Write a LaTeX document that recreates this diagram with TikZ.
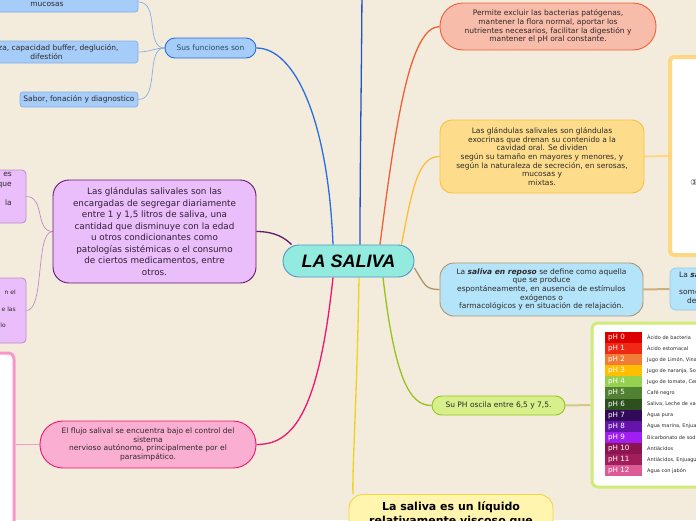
\documentclass[tikz,border=0pt]{standalone}
\usepackage{fontspec}
\setmainfont{DejaVu Sans}
\newfontfamily\titlefont{Liberation Sans}
\usetikzlibrary{backgrounds}
\definecolor{paper}{RGB}{243,236,220}
\definecolor{inkgrey}{RGB}{45,40,40}
\definecolor{centrefill}{RGB}{147,234,222}
\definecolor{centredraw}{RGB}{80,150,200}
\definecolor{funcfill}{RGB}{166,204,250}
\definecolor{funcdraw}{RGB}{40,110,220}
\definecolor{funclight}{RGB}{130,175,230}
\definecolor{functext}{RGB}{30,80,90}
\definecolor{topblue}{RGB}{30,85,195}
\definecolor{salmonfill}{RGB}{248,188,170}
\definecolor{salmondraw}{RGB}{240,95,55}
\definecolor{goldfill}{RGB}{253,221,140}
\definecolor{golddraw}{RGB}{250,192,60}
\definecolor{goldlight}{RGB}{253,215,130}
\definecolor{skyfill}{RGB}{180,228,250}
\definecolor{skydraw}{RGB}{150,200,230}
\definecolor{tandraw}{RGB}{175,150,105}
\definecolor{tanlight}{RGB}{205,175,125}
\definecolor{limefill}{RGB}{215,240,140}
\definecolor{limedraw}{RGB}{150,195,30}
\definecolor{limelight}{RGB}{208,235,120}
\definecolor{phlink}{RGB}{210,200,140}
\definecolor{lilacfill}{RGB}{234,190,250}
\definecolor{lilacdraw}{RGB}{100,25,110}
\definecolor{lilaclight}{RGB}{190,140,200}
\definecolor{lilactext}{RGB}{50,30,55}
\definecolor{rosefill}{RGB}{250,175,210}
\definecolor{rosedraw}{RGB}{240,20,110}
\definecolor{roselight}{RGB}{250,150,200}
\definecolor{creamfill}{RGB}{255,245,175}
\definecolor{creamdraw}{RGB}{245,212,70}
\definecolor{creamlink}{RGB}{240,210,30}
\definecolor{ph0}{RGB}{220,0,0}
\definecolor{ph1}{RGB}{240,40,20}
\definecolor{ph2}{RGB}{240,125,55}
\definecolor{ph3}{RGB}{255,190,0}
\definecolor{ph4}{RGB}{150,210,80}
\definecolor{ph5}{RGB}{80,130,50}
\definecolor{ph6}{RGB}{45,80,30}
\definecolor{ph7}{RGB}{50,10,90}
\definecolor{ph8}{RGB}{100,20,170}
\definecolor{ph9}{RGB}{160,30,240}
\definecolor{ph10}{RGB}{140,20,80}
\definecolor{ph11}{RGB}{160,30,90}
\definecolor{ph12}{RGB}{220,90,150}
\tikzset{
  mapbox/.style={rectangle, draw, line width=0.9pt, align=center, text=inkgrey,
    font=\fontsize{7.5}{8.7}\selectfont, inner sep=2pt},
  mainlink/.style={line width=1.3pt},
  sublink/.style={line width=0.7pt},
  phcell/.style={rectangle, inner xsep=3pt, inner ysep=0pt, text width=31pt, align=left,
    minimum height=11.1pt, text=white, font=\fontsize{7.2}{8}\selectfont},
  phlabel/.style={anchor=west, inner sep=0pt, text=inkgrey, font=\fontsize{5}{5.5}\selectfont}
}
\begin{document}
\begin{tikzpicture}[x=1pt,y=-1pt]
\useasboundingbox (0,0) rectangle (696,520);
% central topic
\node[mapbox, fill=centrefill, draw=centredraw, minimum width=131pt, minimum height=32pt,
  rounded corners=16pt, text=black, font=\titlefont\fontsize{18}{20}\selectfont\bfseries\itshape] (saliva) at (348.5,261) {LA SALIVA};
\coordinate (upper) at (362,-30);
% functions branch
\node[mapbox, fill=funcfill, draw=funcdraw, text=functext, minimum width=91pt, minimum height=20pt, rounded corners=10pt] (funcs) at (210.5,48) {Sus funciones son};
\node[mapbox, fill=funcfill, draw=funclight, line width=0.7pt, minimum width=182pt, minimum height=20pt, rounded corners=3pt] (func1) at (47,2) {\mbox{}\\mucosas};
\node[mapbox, fill=funcfill, draw=funclight, line width=0.7pt, minimum width=183pt, minimum height=22pt, rounded corners=3pt] (func2) at (46.5,52) {\hspace*{24pt}za, capacidad buffer, deglución,\\difestión};
\node[mapbox, fill=funcfill, draw=funclight, line width=0.7pt, minimum width=118pt, minimum height=15pt, rounded corners=3pt] (func3) at (79,99.5) {Sabor, fonación y diagnostico};
% right side
\node[mapbox, fill=salmonfill, draw=salmondraw, minimum width=216pt, minimum height=47pt, rounded corners=23pt] (protect) at (548,26.5) {Permite excluir las bacterias patógenas,\\mantener la flora normal, aportar los\\nutrientes necesarios, facilitar la digestión y\\mantener el pH oral constante.};
\node[mapbox, fill=goldfill, draw=golddraw, minimum width=204pt, minimum height=73pt, rounded corners=12pt] (glands) at (542,156.5) {Las glándulas salivales son glándulas\\exocrinas que drenan su contenido a la\\cavidad oral. Se dividen\\según su tamaño en mayores y menores, y\\según la naturaleza de secreción, en serosas,\\mucosas y\\mixtas.};
\node[rectangle, fill=white, draw=goldlight, line width=4pt, rounded corners=4pt, minimum width=60pt, minimum height=198pt] (glandimg) at (700,156) {};
\node[inner sep=0pt, font=\fontsize{8}{9}\selectfont, text=inkgrey] (three) at (694,183) {③};
\node[mapbox, fill=skyfill, draw=tandraw, minimum width=203pt, minimum height=53pt, rounded corners=14pt] (rest) at (541.5,289.5) {La \textbf{\textit{saliva en reposo}} se define como aquella\\que se produce\\espontáneamente, en ausencia de estímulos\\exógenos o\\farmacológicos y en situación de relajación.};
\node[mapbox, fill=skyfill, draw=skydraw, line width=0.7pt, minimum width=70pt, minimum height=42pt, rounded corners=6pt] (stim) at (705,289) {};
\node[anchor=north west, inner sep=0pt, align=left, text=inkgrey, font=\fontsize{7.5}{8.7}\selectfont] (stimtext) at (679,272) {La \textbf{\textit{sa}}\\[8pt]some\\\hspace*{8pt}de};
\node[mapbox, fill=limefill, draw=limedraw, minimum width=133pt, minimum height=19pt, rounded corners=9.5pt] (ph) at (498.5,405.5) {Su PH oscila entre 6,5 y 7,5.};
\node[rectangle, fill=white, draw=limelight, line width=3pt, rounded corners=6pt, minimum width=128pt, minimum height=164pt] (phtab) at (656,405) {};
\foreach \i/\lab in {0/{Ácido de bacteria},1/{Ácido estomacal},2/{Jugo de Limón, Vinagre},3/{Jugo de naranja, Soda},4/{Jugo de tomate, Cerveza},5/{Café negro},6/{Saliva, Leche de vaca},7/{Agua pura},8/{Agua marina, Enjuague bucal},9/{Bicarbonato de sodio},10/{Antiácidos},11/{Antiácidos, Enjuague bucal},12/{Agua con jabón}}{
  \node[phcell, fill=ph\i] (cell\i) at (623.5,{337.5+11.1*\i}) {pH \i};
  \node[phlabel] (lab\i) at (647,{337.5+11.1*\i}) {\lab};
}
% left side
\node[mapbox, fill=lilacfill, draw=lilacdraw, text=lilactext, minimum width=203pt, minimum height=103pt, rounded corners=16pt, font=\fontsize{8.8}{11.5}\selectfont] (litres) at (154.5,231.5) {Las glándulas salivales son las\\encargadas de segregar diariamente\\entre 1 y 1,5 litros de saliva, una\\cantidad que disminuye con la edad\\u otros condicionantes como\\patologías sistémicas o el consumo\\de ciertos medicamentos, entre\\otros.};
\node[rectangle, fill=lilacfill, draw=lilaclight, line width=0.8pt, rounded corners=4pt, minimum width=66pt, minimum height=53pt] (lilac1) at (-7,196.5) {};
\node[anchor=north east, inner sep=0pt, align=right, text=inkgrey, font=\fontsize{7.5}{9.8}\selectfont] (lilac1text) at (12,172) {es\\que\\\mbox{}\\la};
\node[rectangle, fill=lilacfill, draw=lilaclight, line width=0.8pt, rounded corners=4pt, minimum width=66pt, minimum height=65pt] (lilac2) at (-7,310.5) {};
\node[anchor=north east, inner sep=0pt, align=right, text=inkgrey, font=\fontsize{6}{8.2}\selectfont] (lilac2text) at (16,290) {n el\\\mbox{}\\e las\\\mbox{}\\lo\hspace*{10pt}};
\node[mapbox, fill=rosefill, draw=rosedraw, minimum width=216pt, minimum height=47pt, rounded corners=23pt] (flow) at (148,444.5) {El flujo salival se encuentra bajo el control del\\sistema\\nervioso autónomo, principalmente por el\\parasimpático.};
\node[rectangle, fill=white, draw=roselight, line width=3pt, rounded corners=6pt, minimum width=74pt, minimum height=190pt] (flowimg) at (-23,448) {};
% bottom
\node[mapbox, anchor=north, fill=creamfill, draw=creamdraw, minimum width=204pt, inner ysep=7pt, rounded corners=14pt, text=black, font=\fontsize{11}{14}\selectfont\bfseries] (viscous) at (451,494) {La saliva es un líquido\\relativamente viscoso que};
% links
\begin{scope}[on background layer]
  \fill[paper] (0,0) rectangle (696,520);
  \draw[mainlink, topblue] ([xshift=11.5pt]saliva.north) .. controls (360,150) and (362,50) .. (upper);
  \draw[mainlink, funcdraw] ([xshift=-15.5pt]saliva.north) .. controls (328,120) and (295,48) .. (funcs.east);
  \draw[sublink, funclight] (func1.east) .. controls (160,2) and (145,48) .. (funcs.west);
  \draw[sublink, funclight] (func2.east) .. controls (150,52) and (155,48) .. (funcs.west);
  \draw[sublink, funclight] (func3.east) .. controls (160,99.5) and (145,48) .. (funcs.west);
  \draw[mainlink, salmondraw] ([xshift=31.5pt]saliva.north) .. controls (396,120) and (410,27) .. (protect.west);
  \draw[mainlink, golddraw] ([xshift=53pt]saliva.north) .. controls (412,190) and (418,156) .. (glands.west);
  \draw[line width=2pt, goldlight] (glands.east) -- (glandimg.west);
  \draw[mainlink, tandraw] ([yshift=-7pt]saliva.east) .. controls (425,285) and (425,289.5) .. (rest.west);
  \draw[line width=2pt, tanlight] (rest.east) -- (stim.west);
  \draw[mainlink, limedraw] ([xshift=34.5pt]saliva.south) .. controls (395,380) and (410,405.5) .. (ph.west);
  \draw[line width=2pt, phlink] (ph.east) -- (phtab.west);
  \draw[mainlink, creamlink] ([xshift=10.5pt]saliva.south) .. controls (357,400) and (352,470) .. ([xshift=-98pt]viscous.north);
  \draw[mainlink, rosedraw] ([xshift=-15.5pt]saliva.south) .. controls (318,420) and (290,444.5) .. (flow.east);
  \draw[line width=1.5pt, roselight] (flow.west) -- (flow.west -| flowimg.east);
  \draw[mainlink, lilacdraw] (litres.east) .. controls (275,231.5) and (285,238) .. ([xshift=-57pt]saliva.north);
  \draw[sublink, lilaclight] (lilac1.east) .. controls (45,196.5) and (35,231.5) .. (litres.west);
  \draw[sublink, lilaclight] (lilac2.east) .. controls (45,310.5) and (35,231.5) .. (litres.west);
\end{scope}
\end{tikzpicture}
\end{document}
